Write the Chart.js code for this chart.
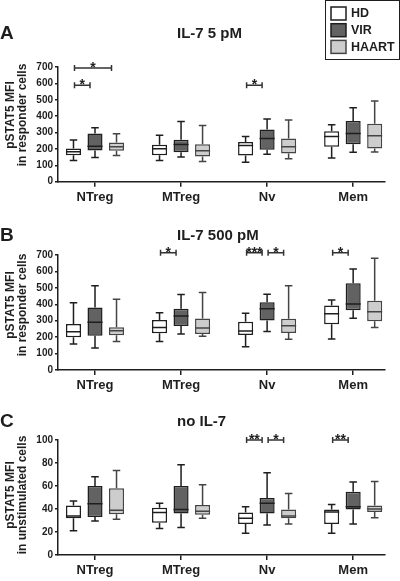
<!DOCTYPE html>
<html>
<head>
<meta charset="utf-8">
<script src="https://cdn.jsdelivr.net/npm/chart.js@4.4.1/dist/chart.umd.min.js"></script>
<style>
  body { margin: 0; background: #fff; width: 400px; height: 581px; overflow: hidden; position: relative; }
  .panel { position: absolute; left: 0; width: 400px; }
</style>
</head>
<body>
<div class="panel" style="top:0;height:205px"><canvas id="chartA"></canvas></div>
<div class="panel" style="top:200px;height:200px"><canvas id="chartB"></canvas></div>
<div class="panel" style="top:390px;height:191px"><canvas id="chartC"></canvas></div>
<script>
// Categories and groups
const categories = ['NTreg', 'MTreg', 'Nv', 'Mem'];
const groups = ['HD', 'VIR', 'HAART'];

// Box stats per category: [min, q1, median, q3, max]
// Panel A - IL-7 5 pM
const lowHD = [[130, 162, 183, 203, 254], [130, 162, 201, 225, 284], [118, 160, 221, 243, 276], [144, 213, 276, 308, 347]];
const lowVIR = [[148, 191, 217, 294, 329], [150, 179, 227, 256, 367], [168, 195, 264, 319, 383], [179, 229, 294, 371, 452]];
const lowHAART = [[160, 189, 213, 239, 292], [124, 154, 189, 229, 343], [140, 172, 213, 264, 377], [181, 203, 280, 353, 493]];

// Panel B - IL-7 500 pM
const highHD = [[158, 199, 233, 280, 410], [174, 223, 258, 304, 349], [142, 213, 237, 294, 345], [189, 278, 343, 392, 426]];
const highVIR = [[134, 209, 290, 381, 513], [219, 268, 329, 373, 459], [235, 302, 373, 412, 461], [315, 363, 402, 528, 615]];
const highHAART = [[174, 211, 239, 260, 430], [205, 219, 256, 314, 471], [187, 225, 270, 312, 513], [258, 296, 355, 422, 680]];

// Panel C - no IL-7
const noneHD = [[21, 32, 34, 43, 47], [23, 28, 37, 41, 45], [19, 27, 32, 37, 42], [19, 27, 37.5, 39.5, 44]];
const noneVIR = [[29.5, 33, 44.5, 60, 68], [24, 36, 39.5, 60, 78.5], [26, 36, 45, 49.5, 71.5], [27, 39.5, 42, 55, 63.5]];
const noneHAART = [[31, 35.5, 39, 58, 73.5], [32, 35, 38, 43.5, 61], [27, 32, 34, 39.5, 53.5], [32.5, 37.5, 40, 43, 64]];

// Significance brackets: [category, fromGroup, toGroup, yValue, label]
const lowSig = [[0, 0, 2, 694, '*'], [0, 0, 1, 589, '*'], [2, 0, 1, 589, '*']];
const highSig = [[1, 0, 1, 714, '*'], [2, 0, 1, 714, '***'], [2, 1, 2, 714, '*'], [3, 0, 1, 714, '*']];
const noneSig = [[2, 0, 1, 100, '**'], [2, 1, 2, 100, '*'], [3, 0, 1, 100, '**']];

// Y axis ticks
const yTicksHigh = [0, 100, 200, 300, 400, 500, 600, 700];
const yTicksNone = [0, 20, 40, 60, 80, 100];

const fills = ['#ffffff', '#626262', '#cdcdcd'];
const edges = ['#1e1e1e', '#1e1e1e', '#444444'];
const FONT = '"Liberation Sans", Arial, sans-serif';
Chart.defaults.font.family = FONT;
Chart.defaults.color = '#1e1e1e';

// Whiskers and medians on top of the floating bars
const boxPlugin = {
    id: 'boxes',
    afterDatasetsDraw(chart) {
        const ctx = chart.ctx;
        const y = chart.scales.y;
        chart.data.datasets.forEach((ds, di) => {
            const meta = chart.getDatasetMeta(di);
            meta.data.forEach((bar, i) => {
                const s = ds.stats[i];
                const cap = bar.width * 0.5;
                const pMin = y.getPixelForValue(s[0]);
                const pQ1 = y.getPixelForValue(s[1]);
                const pMed = y.getPixelForValue(s[2]);
                const pQ3 = y.getPixelForValue(s[3]);
                const pMax = y.getPixelForValue(s[4]);
                ctx.save();
                ctx.strokeStyle = ds.borderColor;
                ctx.lineWidth = 1.5;
                ctx.beginPath();
                ctx.moveTo(bar.x, pQ3); ctx.lineTo(bar.x, pMax);
                ctx.moveTo(bar.x - cap / 2, pMax); ctx.lineTo(bar.x + cap / 2, pMax);
                ctx.moveTo(bar.x, pQ1); ctx.lineTo(bar.x, pMin);
                ctx.moveTo(bar.x - cap / 2, pMin); ctx.lineTo(bar.x + cap / 2, pMin);
                ctx.moveTo(bar.x - bar.width / 2, pMed); ctx.lineTo(bar.x + bar.width / 2, pMed);
                ctx.stroke();
                ctx.restore();
            });
        });
    }
};

// Panel letter, title, y title, significance brackets, legend
const decorPlugin = {
    id: 'decor',
    afterDraw(chart, args, opts) {
        const ctx = chart.ctx;
        const y = chart.scales.y;
        ctx.save();
        ctx.fillStyle = '#1e1e1e';
        ctx.textBaseline = 'middle';

        ctx.font = 'bold 19px ' + FONT;
        ctx.textAlign = 'left';
        ctx.fillText(opts.letter, 0, opts.titleY);

        ctx.font = 'bold 15px ' + FONT;
        ctx.fillText(opts.title, 177, opts.titleY);

        // y axis title, two lines rotated
        ctx.font = 'bold 12px ' + FONT;
        ctx.textAlign = 'center';
        opts.yTitle.forEach((line, i) => {
            ctx.save();
            ctx.translate(11 + i * 11.5, opts.yTitleY);
            ctx.rotate(-Math.PI / 2);
            ctx.fillText(line, 0, 0);
            ctx.restore();
        });

        // significance brackets
        ctx.strokeStyle = '#333';
        ctx.lineWidth = 1.5;
        opts.sig.forEach(([cat, g1, g2, val, label]) => {
            const x1 = chart.getDatasetMeta(g1).data[cat].x + 1;
            const x2 = chart.getDatasetMeta(g2).data[cat].x - 5;
            const py = y.getPixelForValue(val);
            ctx.beginPath();
            ctx.moveTo(x1, py); ctx.lineTo(x2, py);
            ctx.moveTo(x1, py - 3); ctx.lineTo(x1, py + 3);
            ctx.moveTo(x2, py - 3); ctx.lineTo(x2, py + 3);
            ctx.stroke();
            ctx.font = 'bold 14px ' + FONT;
            ctx.textBaseline = 'alphabetic';
            ctx.fillText(label, (x1 + x2) / 2, py + 4);
            ctx.textBaseline = 'middle';
        });

        if (opts.legend) {
            ctx.lineWidth = 1;
            ctx.strokeStyle = '#1e1e1e';
            ctx.strokeRect(325.5, 0.5, 74, 59);
            chart.data.datasets.forEach((ds, i) => {
                const top = 7 + i * 16.7;
                ctx.fillStyle = ds.backgroundColor;
                ctx.fillRect(331, top, 15, 13);
                ctx.lineWidth = 1.5;
                ctx.strokeStyle = ds.borderColor;
                ctx.strokeRect(331, top, 15, 13);
                ctx.fillStyle = '#1e1e1e';
                ctx.font = 'bold 12.5px ' + FONT;
                ctx.textAlign = 'left';
                ctx.fillText(ds.label, 351, top + 7);
            });
        }
        ctx.restore();
    }
};

function makeChart(id, sets, yTicks, canvasH, areaTop, areaBottom, decor) {
    const datasets = sets.map((stats, g) => ({
        label: groups[g],
        stats: stats,
        data: stats.map((s, i) => ({ x: i, y: [s[1], s[3]] })),
        backgroundColor: fills[g],
        borderColor: edges[g],
        borderWidth: 1.5,
        borderSkipped: false,
        categoryPercentage: 0.75,
        barPercentage: 0.7
    }));
    return new Chart(document.getElementById(id), {
        type: 'bar',
        data: { datasets },
        options: {
            responsive: true,
            maintainAspectRatio: false,
            animation: false,
            layout: { padding: { top: areaTop, left: 0, right: 15, bottom: 0 } },
            plugins: {
                legend: { display: false },
                tooltip: { enabled: false },
                decor: decor
            },
            scales: {
                x: {
                    type: 'linear',
                    offset: false,
                    bounds: 'data',
                    min: -0.43,
                    max: 3.37,
                    afterBuildTicks: (s) => {
                        s.ticks = categories.map((c, i) => ({ value: i }));
                        s.min = -0.43;
                        s.max = 3.37;
                    },
                    afterFit: (s) => { s.height = canvasH - areaBottom; },
                    grid: { offset: false, drawOnChartArea: false, drawTicks: true, tickLength: 5, color: '#1e1e1e', lineWidth: 1.5 },
                    border: { color: '#1e1e1e', width: 1.5 },
                    ticks: {
                        callback: (v) => categories[v],
                        font: { size: 13, weight: 'bold' },
                        padding: 3,
                        maxRotation: 0
                    }
                },
                y: {
                    min: yTicks[0],
                    max: yTicks[yTicks.length - 1],
                    afterBuildTicks: (s) => { s.ticks = yTicks.map(v => ({ value: v })); },
                    afterFit: (s) => { s.width = 58; },
                    grid: { drawOnChartArea: false, drawTicks: true, tickLength: 3, color: '#1e1e1e', lineWidth: 1.5 },
                    border: { color: '#1e1e1e', width: 1.5 },
                    ticks: { font: { size: 10, weight: 'bold' }, padding: 2 }
                }
            }
        },
        plugins: [boxPlugin, decorPlugin]
    });
}

makeChart('chartA', [lowHD, lowVIR, lowHAART], yTicksHigh, 205, 67, 181.7, {
    letter: 'A', title: 'IL-7 5 pM', titleY: 34, yTitleY: 115,
    yTitle: ['pSTAT5 MFI', 'in responder cells'], sig: lowSig, legend: true
});
makeChart('chartB', [highHD, highVIR, highHAART], yTicksHigh, 200, 55, 170, {
    letter: 'B', title: 'IL-7 500 pM', titleY: 36, yTitleY: 105,
    yTitle: ['pSTAT5 MFI', 'in responder cells'], sig: highSig, legend: false
});
makeChart('chartC', [noneHD, noneVIR, noneHAART], yTicksNone, 191, 50, 165, {
    letter: 'C', title: 'no IL-7', titleY: 32, yTitleY: 105,
    yTitle: ['pSTAT5 MFI', 'in unstimulated cells'], sig: noneSig, legend: false
});
</script>
</body>
</html>
